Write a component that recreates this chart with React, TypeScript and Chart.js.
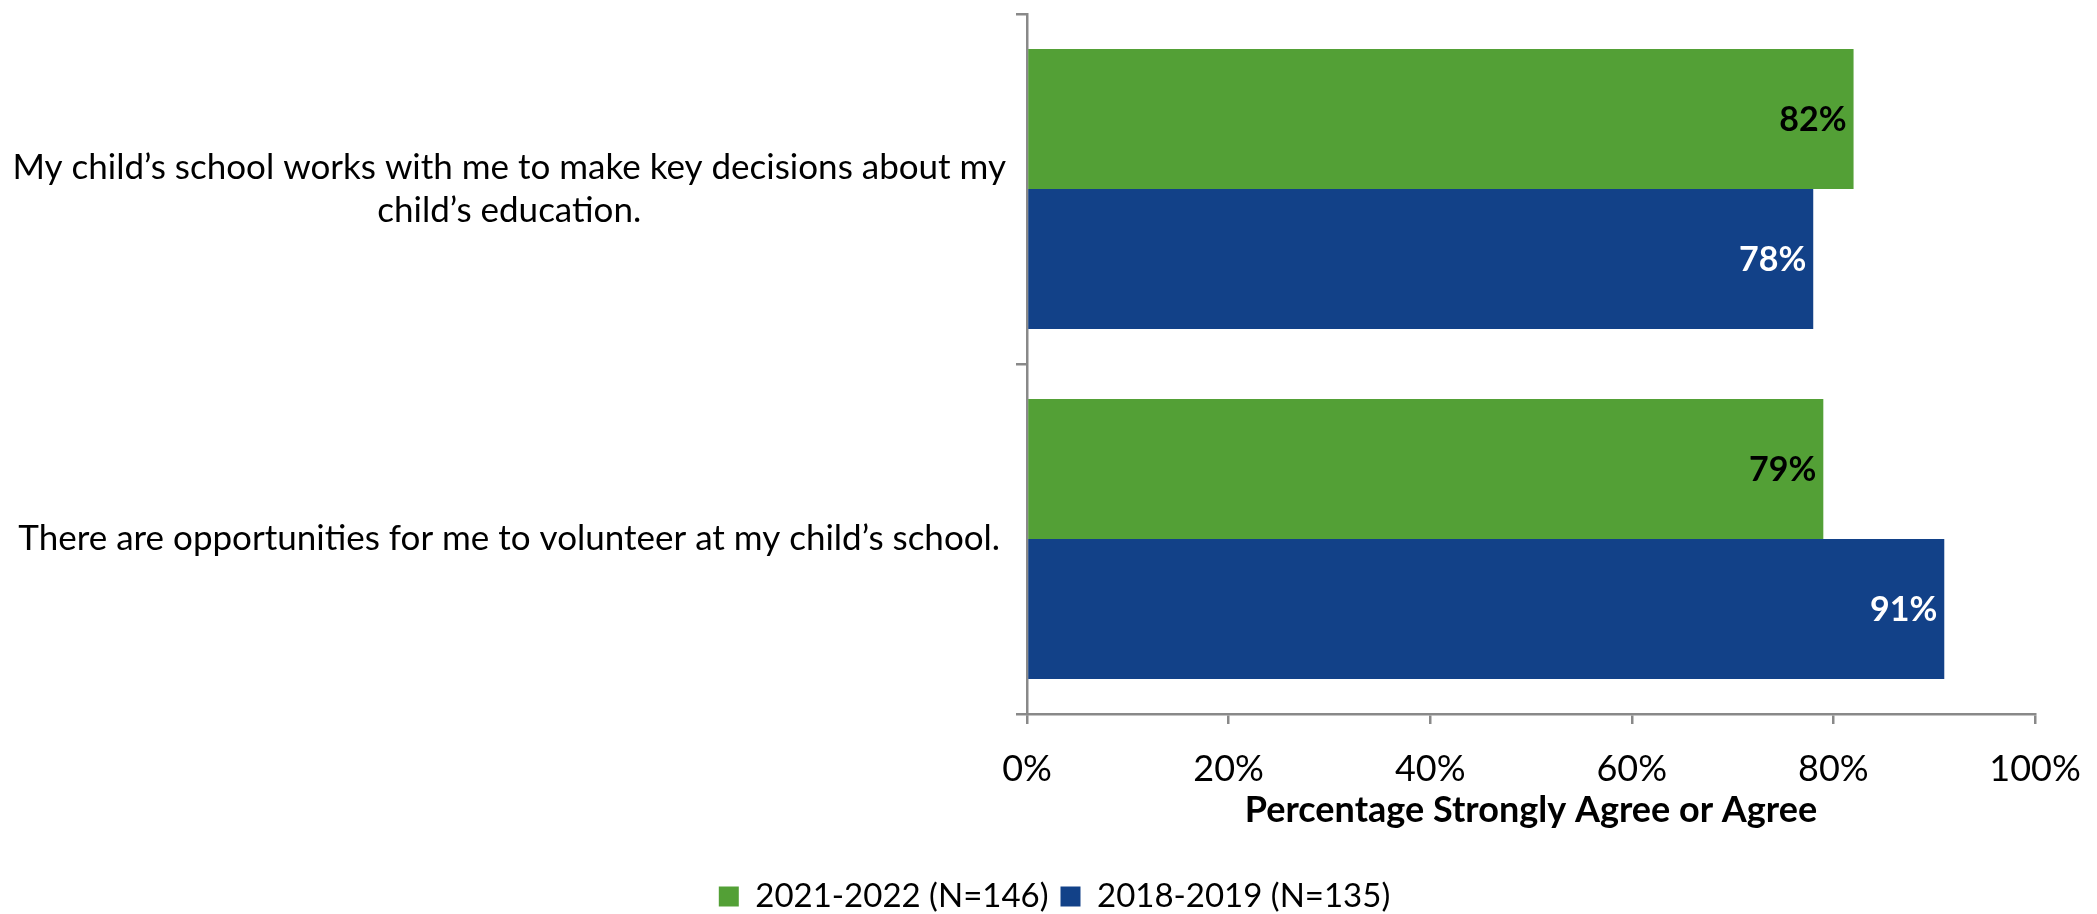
import React, { useEffect, useRef } from "react";
import { Chart, registerables } from "chart.js";

Chart.register(...registerables);

const categories: string[][] = [
  ["My child’s school works with me to make key decisions about my", "child’s education."],
  ["There are opportunities for me to volunteer at my child’s school."],
];
const seriesNames = ["2021-2022 (N=146)", "2018-2019 (N=135)"];
const values2021 = [82, 79];
const values2018 = [78, 91];
const xTickValues = [0, 20, 40, 60, 80, 100];
const axisTitle = "Percentage Strongly Agree or Agree";

const GREEN = "#53A036";
const BLUE = "#124188";
const LABEL_COLORS = ["#000000", "#ffffff"];
const FONT = "Lato, 'Open Sans', sans-serif";

const valueLabels = {
  id: "valueLabels",
  afterDatasetsDraw(chart: any) {
    const ctx = chart.ctx;
    ctx.save();
    ctx.font = `bold 34px ${FONT}`;
    ctx.textAlign = "right";
    ctx.textBaseline = "middle";
    chart.data.datasets.forEach((ds: any, i: number) => {
      const meta = chart.getDatasetMeta(i);
      ctx.fillStyle = LABEL_COLORS[i];
      meta.data.forEach((el: any, j: number) => {
        ctx.fillText(`${ds.data[j]}%`, el.x - 7, el.y + 1);
      });
    });
    ctx.restore();
  },
};

export default function App() {
  const ref = useRef<HTMLCanvasElement>(null);
  useEffect(() => {
    const chart = new Chart(ref.current!, {
      type: "bar",
      data: {
        labels: categories,
        datasets: [
          {
            label: seriesNames[0],
            data: values2021,
            backgroundColor: GREEN,
            borderWidth: 0,
            categoryPercentage: 0.8,
            barPercentage: 1.0,
          },
          {
            label: seriesNames[1],
            data: values2018,
            backgroundColor: BLUE,
            borderWidth: 0,
            categoryPercentage: 0.8,
            barPercentage: 1.0,
          },
        ],
      },
      options: {
        indexAxis: "y",
        responsive: false,
        animation: false,
        devicePixelRatio: 1,
        layout: { padding: { top: 14, left: 12, right: 0, bottom: -9 } },
        plugins: {
          tooltip: { enabled: false },
          legend: {
            position: "bottom",
            labels: {
              boxWidth: 20,
              boxHeight: 20,
              padding: 12,
              color: "#000",
              font: { family: FONT, size: 33 },
            },
          },
        },
        scales: {
          x: {
            min: 0,
            max: 100,
            afterBuildTicks: (s: any) => {
              s.ticks = xTickValues.map((v) => ({ value: v }));
            },
            afterFit: (s: any) => {
              s.height = 154;
              s.paddingLeft = 0;
              s.paddingRight = 62;
            },
            ticks: {
              callback: (v: any) => `${v}%`,
              color: "#000",
              padding: 24,
              font: { family: FONT, size: 36 },
              maxRotation: 0,
            },
            grid: {
              drawOnChartArea: false,
              drawTicks: true,
              tickLength: 10,
              color: "#898989",
              lineWidth: 2.5,
            },
            border: { display: true, color: "#898989", width: 2.5 },
            title: {
              display: true,
              text: axisTitle,
              color: "#000",
              font: { family: FONT, size: 36, weight: "bold" },
              padding: { top: 0, bottom: 36 },
            },
          },
          y: {
            afterFit: (s: any) => {
              s.width = 1015;
              s.paddingTop = 0;
              s.paddingBottom = 0;
            },
            ticks: {
              crossAlign: "center",
              padding: 10,
              color: "#000",
              font: { family: FONT, size: 35, lineHeight: 1.23 },
            },
            grid: {
              offset: true,
              drawOnChartArea: false,
              drawTicks: true,
              tickLength: 11,
              color: "#898989",
              lineWidth: 2.5,
            },
            border: { display: true, color: "#898989", width: 2.5 },
          },
        },
      },
      plugins: [valueLabels],
    } as any);
    return () => chart.destroy();
  }, []);
  return (
    <div style={{ position: "fixed", left: 0, top: 0, width: 2097, height: 914, background: "#fff" }}>
      <canvas ref={ref} width={2097} height={914} style={{ display: "block", width: 2097, height: 914 }} />
    </div>
  );
}
